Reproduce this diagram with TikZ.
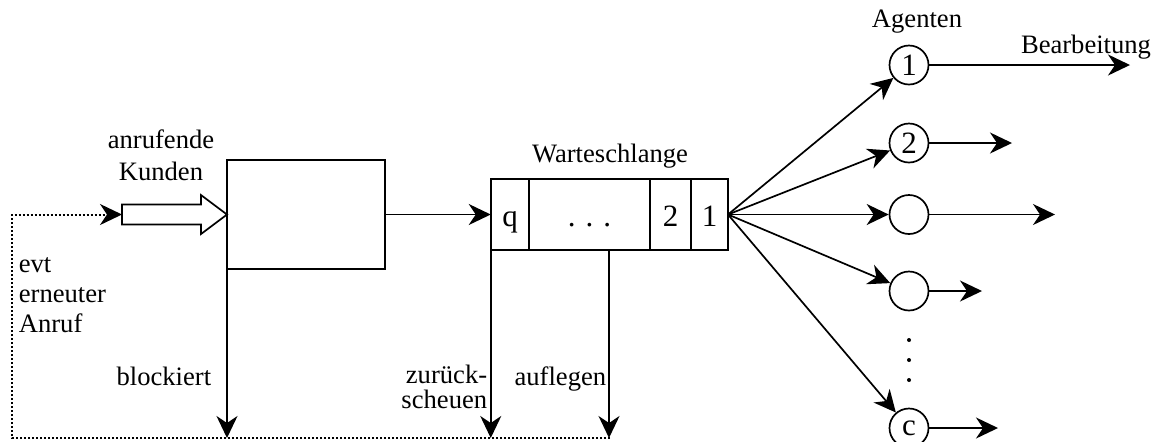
\documentclass[tikz,border=0pt]{standalone}
\usepackage{fontspec}
\setmainfont{Liberation Serif}
\usetikzlibrary{arrows.meta}
\begin{document}
\begin{tikzpicture}[x=0.5pt,y=-0.5pt,line width=0.85pt,
  font=\fontsize{13.3}{16}\selectfont,
  arr/.style={-{Stealth[length=11pt,width=10.5pt,inset=3.5pt]}},
  cell/.style={draw,minimum height=35.5pt,inner sep=0pt,outer sep=0pt,text height=12pt,text depth=0pt,font=\fontsize{15.5}{18}\selectfont},
  agent/.style={draw,circle,minimum size=19.5pt,inner sep=0pt,font=\fontsize{15.5}{18}\selectfont},
  lbl/.style={inner sep=0pt}]
\useasboundingbox (0,0) rectangle (1155,441);
\node[draw,minimum width=79pt,minimum height=54.5pt,outer sep=0pt] (box) at (306,214.5) {};
\node[cell,minimum width=19.25pt] (q) at (510,214.5) {q};
\node[cell,minimum width=60.5pt] (dots) at (589.5,214.5) {.\hspace{5pt}.\hspace{5pt}.};
\node[cell,minimum width=20.5pt] (two) at (670.5,214.5) {2};
\node[cell,minimum width=18.5pt] (one) at (709.5,214.5) {1};
\node[agent] (a1) at (909,65) {1};
\node[agent] (a2) at (909,143) {2};
\node[agent] (a3) at (909,214.5) {};
\node[agent] (a4) at (909,291) {};
\node[agent] (ac) at (909,428) {c};
\foreach \y in {340,360,380} \fill (909,\y) circle (1pt);
\coordinate (o1) at (1130,65);
\coordinate (o2) at (1012,143);
\coordinate (o3) at (1055,214.5);
\coordinate (o4) at (982,291);
\coordinate (oc) at (998,428);
\coordinate (tail) at (122,214.5);
\coordinate (back) at (610,438);
\coordinate (b1) at (227,438);
\coordinate (hang) at (609,250);
\node[lbl,anchor=base] (wl) at (610,162) {Warteschlange};
\node[lbl,anchor=base] (ag) at (917,27) {Agenten};
\node[lbl,anchor=base] (bb) at (1086,53) {Bearbeitung};
\node[lbl,anchor=base east] (bk) at (212,385) {blockiert};
\node[lbl,anchor=base east] (af) at (607,385) {auflegen};
\node[lbl,anchor=base,align=center] (kd) at (161,180) {anrufende\\Kunden};
\node[lbl,anchor=base west,align=left,font=\fontsize{13.3}{15}\selectfont] (ev) at (18,332) {evt\\erneuter\\Anruf};
\node[lbl,anchor=base east,align=right,font=\fontsize{13.3}{12.5}\selectfont] (zs) at (488,408) {zurück-\\scheuen};
\draw[fill=white] (122,204.5) -- (201,204.5) -- (201,195) -- (box.west) -- (201,234) -- (201,224.5) -- (122,224.5) -- cycle;
\draw[arr,line width=1pt,dash pattern=on 1pt off 1pt] (back) -- (12,438) -- (12,214.5) -- (tail);
\draw[arr] (box.east) -- (q.west);
\draw[arr] (box.south west) -- (b1);
\draw[arr] (q.south west) -- (q.south west |- b1);
\draw[arr] (hang) -- (hang |- b1);
\foreach \a in {a1,a2,a3,a4,ac} \draw[arr] (one.east) -- (\a);
\foreach \a/\o in {a1/o1,a2/o2,a3/o3,a4/o4,ac/oc} \draw[arr] (\a) -- (\o);
\end{tikzpicture}
\end{document}
